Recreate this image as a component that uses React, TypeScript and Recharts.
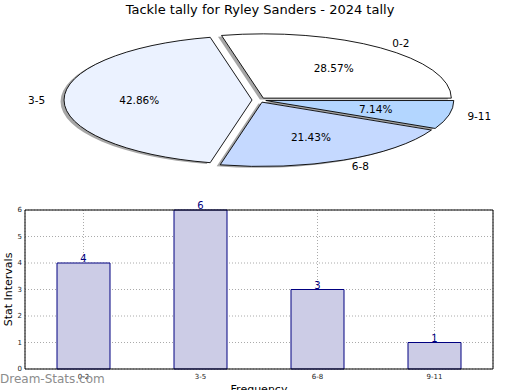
import React from 'react';
import { PieChart, Pie, Cell, BarChart, Bar, XAxis, YAxis, CartesianGrid, LabelList } from 'recharts';

const categories = ['0-2', '3-5', '6-8', '9-11'];
const counts = [4, 6, 3, 1];
const sliceColors = ['#FFFFFF', '#EBF2FF', '#C5D9FF', '#B3D6FF'];
const yTicks = [0, 1, 2, 3, 4, 5, 6];
const title = 'Tackle tally for Ryley Sanders - 2024 tally';

const pieData = categories.map((c, i) => ({ name: c, value: counts[i] }));
const barData = categories.map((c, i) => ({ name: c, value: counts[i] }));

const FONT = '"DejaVu Sans", Verdana, sans-serif';
const RY_RATIO = 0.342;
const EXPLODE = 0.037;
const RAD = Math.PI / 180;

function pt(cx: number, cy: number, rx: number, ry: number, deg: number) {
  return [cx + rx * Math.cos(deg * RAD), cy - ry * Math.sin(deg * RAD)];
}

function sectorPath(cx: number, cy: number, rx: number, ry: number, s: number, e: number) {
  const [x1, y1] = pt(cx, cy, rx, ry, s);
  const [x2, y2] = pt(cx, cy, rx, ry, e);
  const large = Math.abs(e - s) > 180 ? 1 : 0;
  const sweep = e > s ? 0 : 1;
  return `M${cx},${cy} L${x1},${y1} A${rx},${ry} 0 ${large} ${sweep} ${x2},${y2} Z`;
}

function explodedCenter(props: any) {
  const { cx, cy, outerRadius, startAngle, endAngle } = props;
  const mid = (startAngle + endAngle) / 2;
  const rx = outerRadius;
  const ry = outerRadius * RY_RATIO;
  return {
    x: cx + EXPLODE * rx * Math.cos(mid * RAD),
    y: cy - EXPLODE * ry * Math.sin(mid * RAD),
    rx,
    ry,
  };
}

const ShadowSlice = (props: any) => {
  const c = explodedCenter(props);
  return (
    <path
      d={sectorPath(c.x - 3.5, c.y + 1.4, c.rx, c.ry, props.startAngle, props.endAngle)}
      fill="#4d4d4d"
      fillOpacity={0.5}
      stroke="none"
    />
  );
};

const EllipseSlice = (props: any) => {
  const c = explodedCenter(props);
  return (
    <path
      d={sectorPath(c.x, c.y, c.rx, c.ry, props.startAngle, props.endAngle)}
      fill={props.fill}
      stroke="#000"
      strokeWidth={0.9}
    />
  );
};

const renderPieLabel = (props: any) => {
  const { cx, cy, outerRadius, midAngle, percent, index } = props;
  const rx = outerRadius;
  const ry = outerRadius * RY_RATIO;
  const cos = Math.cos(midAngle * RAD);
  const sin = Math.sin(midAngle * RAD);
  const pf = EXPLODE + 0.6;
  const lf = EXPLODE + 1.1;
  const px = cx + pf * rx * cos;
  const py = cy - pf * ry * sin;
  const lx = cx + lf * rx * cos;
  const ly = cy - lf * ry * sin;
  return (
    <g key={`lbl-${index}`}>
      <text x={px} y={py} textAnchor="middle" dominantBaseline="central" fontSize={10.5} fontFamily={FONT} fill="#000">
        {(percent * 100).toFixed(2)}%
      </text>
      <text x={lx} y={ly} textAnchor={cos >= 0 ? 'start' : 'end'} dominantBaseline="central" fontSize={10.5} fontFamily={FONT} fill="#000">
        {categories[index]}
      </text>
    </g>
  );
};

export default function App() {
  return (
    <div style={{ position: 'absolute', left: 0, top: 0, width: 520, height: 390, background: '#fff', overflow: 'hidden', fontFamily: FONT }}>
      <div style={{ position: 'absolute', left: 0, top: 2, width: 520, textAlign: 'center', fontSize: 13, color: '#000' }}>
        {title}
      </div>
      <div style={{ position: 'absolute', left: 0, top: 0 }}>
        <PieChart width={520} height={185} margin={{ top: 0, right: 0, bottom: 0, left: 0 }}>
          <Pie
            data={pieData}
            dataKey="value"
            nameKey="name"
            cx={259}
            cy={100}
            outerRadius={188}
            startAngle={0}
            endAngle={360}
            isAnimationActive={false}
            shape={ShadowSlice}
            activeShape={ShadowSlice}
            inactiveShape={ShadowSlice}
            label={false}
            labelLine={false}
          >
            {pieData.map((d, i) => (
              <Cell key={`s-${d.name}`} fill={sliceColors[i]} />
            ))}
          </Pie>
          <Pie
            data={pieData}
            dataKey="value"
            nameKey="name"
            cx={259}
            cy={100}
            outerRadius={188}
            startAngle={0}
            endAngle={360}
            isAnimationActive={false}
            shape={EllipseSlice}
            activeShape={EllipseSlice}
            inactiveShape={EllipseSlice}
            label={renderPieLabel}
            labelLine={false}
          >
            {pieData.map((d, i) => (
              <Cell key={`c-${d.name}`} fill={sliceColors[i]} />
            ))}
          </Pie>
        </PieChart>
      </div>
      <div style={{ position: 'absolute', left: 0, top: 190 }}>
        <BarChart width={520} height={200} data={barData} margin={{ top: 18, right: 25, bottom: 0, left: 0 }}>
          <XAxis
            dataKey="name"
            height={21}
            interval={0}
            tickLine={false}
            tickSize={3}
            tickMargin={2}
            axisLine={{ stroke: '#000', strokeWidth: 1 }}
            tick={{ fontSize: 7, fill: '#222', fontFamily: FONT }}
            label={{ value: 'Frequency', position: 'insideBottom', offset: -3, fontSize: 11, fill: '#000', fontFamily: FONT }}
          />
          <XAxis
            xAxisId="top"
            orientation="top"
            dataKey="name"
            height={2}
            tick={false}
            tickLine={false}
            axisLine={{ stroke: '#000', strokeWidth: 1 }}
          />
          <YAxis
            width={25}
            domain={[0, 6]}
            ticks={yTicks}
            interval={0}
            tickLine={false}
            tickSize={3}
            tickMargin={0}
            axisLine={{ stroke: '#000', strokeWidth: 1 }}
            tick={{ fontSize: 7, fill: '#222', fontFamily: FONT }}
            label={{ value: 'Stat Intervals', angle: -90, position: 'insideLeft', offset: 8, fontSize: 11, fill: '#000', fontFamily: FONT, style: { textAnchor: 'middle' } }}
          />
          <YAxis
            yAxisId="right"
            orientation="right"
            width={2}
            domain={[0, 6]}
            tick={false}
            tickLine={false}
            axisLine={{ stroke: '#000', strokeWidth: 1 }}
          />
          <Bar dataKey="value" fill="#CCCCE6" stroke="#000080" strokeWidth={1} barSize={53} isAnimationActive={false}>
            <LabelList dataKey="value" position="top" offset={1} fill="#000080" fontSize={10} fontFamily={FONT} />
          </Bar>
          <Bar
            dataKey="value"
            xAxisId="top"
            yAxisId="right"
            fill="none"
            fillOpacity={0}
            stroke="none"
            barSize={53}
            isAnimationActive={false}
          />
          <CartesianGrid strokeDasharray="1 2" stroke="#aaa" />
        </BarChart>
      </div>
      <div style={{ position: 'absolute', left: 0, top: 372, fontSize: 12, color: '#8c8c8c', fontWeight: 'normal' }}>
        Dream-Stats.com
      </div>
    </div>
  );
}
